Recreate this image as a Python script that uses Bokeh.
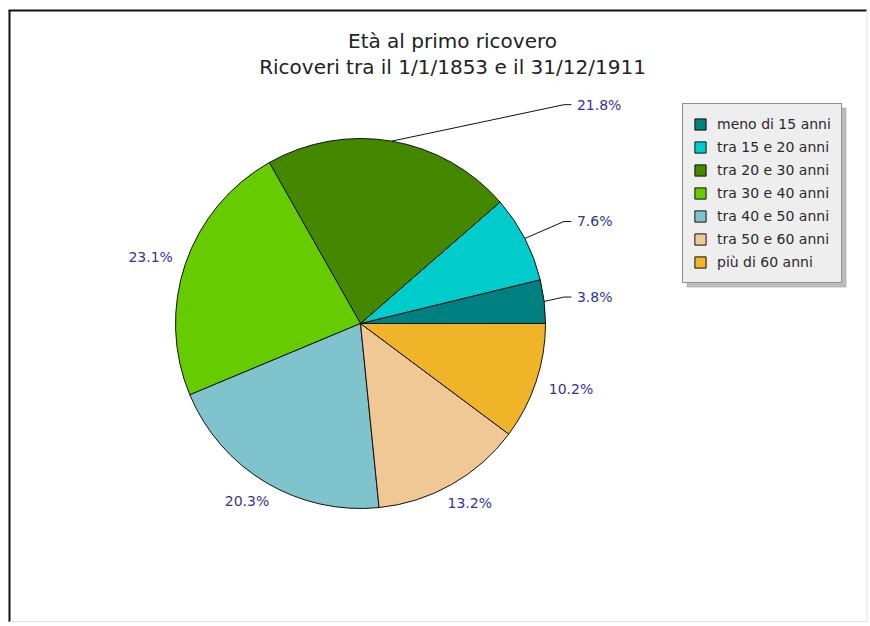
import numpy as np
from bokeh.plotting import figure
from bokeh.models import ColumnDataSource, Range1d, Legend, LegendItem
from bokeh.core.properties import value
from bokeh.embed import file_html
from bokeh.resources import INLINE

# ---- data ----
categories = ["meno di 15 anni", "tra 15 e 20 anni", "tra 20 e 30 anni",
              "tra 30 e 40 anni", "tra 40 e 50 anni", "tra 50 e 60 anni",
              "più di 60 anni"]
percentages = [3.8, 7.6, 21.8, 23.1, 20.3, 13.2, 10.2]
colors = ["#008080", "#00CCCC", "#448800", "#66CC00", "#7FC4CC", "#F0C896", "#F0B428"]
title_lines = ["Età al primo ricovero", "Ricoveri tra il 1/1/1853 e il 31/12/1911"]

# ---- layout (1 data unit = 1 pixel, y measured upward) ----
W, H = 868, 622
CX, CY, R = 360, H - 323, 185
TX = 452
FONT = value("DejaVu Sans")

vals = np.array(percentages, dtype=float)
frac = vals / vals.sum()
ends = 2 * np.pi * np.cumsum(frac)
starts = ends - 2 * np.pi * frac
mids = (starts + ends) / 2
c, s = np.cos(mids), np.sin(mids)

p = figure(width=W, height=H, x_range=Range1d(0, W), y_range=Range1d(0, H),
           output_backend="svg", toolbar_location=None, min_border=0,
           x_axis_location=None, y_axis_location=None)
p.grid.visible = False
p.outline_line_color = None
p.background_fill_color = "white"
p.border_fill_color = "white"

# frame border (dark top/left, faint bottom and right)
p.segment(x0=[8], y0=[H - 10], x1=[W - 2], y1=[H - 10], line_color="#111111", line_width=2)
p.segment(x0=[9], y0=[0], x1=[9], y1=[H - 10], line_color="#111111", line_width=2)
p.segment(x0=[9, W - 1.5], y0=[1, 1], x1=[W - 1.5, W - 1.5], y1=[1, H - 11],
          line_color="#e4e4e4", line_width=1)

# title
p.text(x=[TX, TX], y=[H - 40, H - 66], text=title_lines,
       text_align="center", text_baseline="middle", text_font=FONT,
       text_font_size="20px", text_color="#222222")

# pie
src = ColumnDataSource(dict(start=starts, end=ends, color=colors, label=categories))
wedges = p.wedge(x=CX, y=CY, radius=R, start_angle="start", end_angle="end",
                 fill_color="color", line_color="#111111", line_width=1, source=src)

# labels
labels = [f"{v:.1f}%" for v in percentages]
lead = (c > 0) & (s > 0)
lx, ly, lt = [], [], []
ox, oy, ot, oxo, oyo = [], [], [], [], []
lead_xs, lead_ys = [], []
for i in range(len(labels)):
    if lead[i]:
        yl = CY + 1.2 * R * s[i]
        lx.append(CX + 1.17 * R); ly.append(yl); lt.append(labels[i])
        lead_xs.append([CX + R * c[i], CX + 1.1 * R, CX + 1.14 * R])
        lead_ys.append([CY + R * s[i], yl, yl])
    else:
        ox.append(CX + 1.08 * R * c[i]); oy.append(CY + 1.08 * R * s[i]); ot.append(labels[i])
        oxo.append(22 * c[i]); oyo.append(-7 * s[i])

p.multi_line(xs=lead_xs, ys=lead_ys, line_color="#111111", line_width=1)
p.text(x=lx, y=ly, text=lt, text_align="left", text_baseline="middle",
       text_font=FONT, text_font_size="14px", text_color="#333399")
p.text(x=ox, y=oy, text=ot, x_offset=oxo, y_offset=oyo,
       text_align="center", text_baseline="middle",
       text_font=FONT, text_font_size="14px", text_color="#333399")

# legend shadow
p.rect(x=766, y=H - 197, width=160, height=180, fill_color="#bbbbbb", line_color=None)

items = [LegendItem(label=categories[i], renderers=[wedges], index=i) for i in range(len(categories))]
legend = Legend(items=items, location=(682, H - 283), label_text_font="DejaVu Sans",
                label_text_font_size="14px", label_text_color="#2a2a2a",
                glyph_width=14, glyph_height=14, label_height=20, spacing=3,
                padding=10, margin=0, label_standoff=10,
                background_fill_color="#eeeeee", background_fill_alpha=1.0,
                border_line_color="#333333", border_line_width=1.5)
p.add_layout(legend)

open("out.html", "w").write(file_html(p, INLINE))
